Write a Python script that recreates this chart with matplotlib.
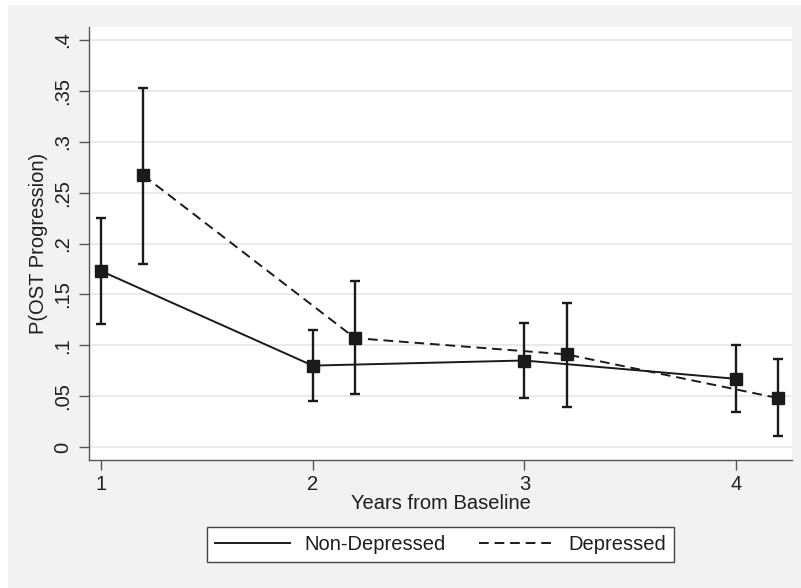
import matplotlib
matplotlib.use('AGG')

import matplotlib.pyplot as plt
from matplotlib.patches import Rectangle
import numpy as np

plt.rcParams['font.family'] = ['Liberation Sans', 'DejaVu Sans']

# Estimated probabilities with 95% CI
years = [1, 2, 3, 4]
nondep_p = [0.173, 0.080, 0.085, 0.067]
nondep_lo = [0.121, 0.045, 0.048, 0.034]
nondep_hi = [0.225, 0.115, 0.122, 0.100]

dep_offset = 0.2
dep_p = [0.267, 0.107, 0.091, 0.048]
dep_lo = [0.180, 0.052, 0.039, 0.011]
dep_hi = [0.353, 0.163, 0.142, 0.086]

yticks = [0, 0.05, 0.1, 0.15, 0.2, 0.25, 0.3, 0.35, 0.4]
ytick_labels = ['0', '.05', '.1', '.15', '.2', '.25', '.3', '.35', '.4']

ink = '#1a1a1a'
axis_col = '#555555'
txt = '#1e1e1e'
fs = 14.5

fig = plt.figure(figsize=(8.01, 5.88), dpi=100, facecolor='white')
fig.patches.append(Rectangle((8 / 801, 0), 1, (588 - 5) / 588, transform=fig.transFigure,
                             facecolor='#f2f2f2', edgecolor='none', zorder=-10))

ax = fig.add_axes([89 / 801, 1 - 460 / 588, (792 - 89) / 801, (460 - 27) / 588])
ax.set_facecolor('white')

x_nd = np.array(years, dtype=float)
x_d = x_nd + dep_offset


def draw(x, p, lo, hi, ls, label):
    p = np.asarray(p)
    err = [p - np.asarray(lo), np.asarray(hi) - p]
    ax.errorbar(x, p, yerr=err, fmt='none', ecolor=ink, elinewidth=1.7,
                capsize=3.8, capthick=1.7, zorder=3)
    if ls == '--':
        ax.plot(x, p, color=ink, linestyle='--', dashes=(5, 3), linewidth=1.4,
                label=label, zorder=4)
    else:
        ax.plot(x, p, color=ink, linestyle='-', linewidth=1.4, label=label, zorder=4)
    ax.plot(x, p, linestyle='none', marker='s', markersize=9.2, color=ink, zorder=5)


draw(x_nd, nondep_p, nondep_lo, nondep_hi, '-', 'Non-Depressed')
draw(x_d, dep_p, dep_lo, dep_hi, '--', 'Depressed')

ax.set_xlim(1 - 12 / 211.7, 4 + 56 / 211.7)
ax.set_ylim(-13 / 1017, 0.4 + 13 / 1017)

ax.set_yticks(yticks)
ax.set_yticklabels(ytick_labels, rotation=90, va='center')
ax.set_xticks(years)
ax.grid(True, axis='y', color='#eaeaea', linewidth=1.4, zorder=0)
ax.set_axisbelow(True)

for side in ['top', 'right']:
    ax.spines[side].set_visible(False)
for side in ['left', 'bottom']:
    ax.spines[side].set_color(axis_col)
    ax.spines[side].set_linewidth(1.0)
ax.tick_params(axis='both', colors=axis_col, length=7, width=1.0, labelsize=fs,
               labelcolor=txt)
ax.tick_params(axis='y', pad=5)
ax.tick_params(axis='x', pad=4)

ax.set_xlabel('Years from Baseline', fontsize=fs, color=txt, labelpad=0)
ax.set_ylabel('P(OST Progression)', fontsize=fs, color=txt, labelpad=4)

leg = fig.legend(loc='center', bbox_to_anchor=(440.5 / 801, 1 - 544.5 / 588), ncol=2,
                 fontsize=fs, frameon=True, fancybox=False, handlelength=3.7,
                 handletextpad=0.7, columnspacing=1.7, borderpad=0.4)
leg.get_frame().set_edgecolor('#444444')
leg.get_frame().set_linewidth(1.0)
leg.get_frame().set_facecolor('white')
leg.get_frame().set_alpha(1)
for t in leg.get_texts():
    t.set_color(txt)

fig.savefig('out.png', dpi=100, facecolor=fig.get_facecolor())
